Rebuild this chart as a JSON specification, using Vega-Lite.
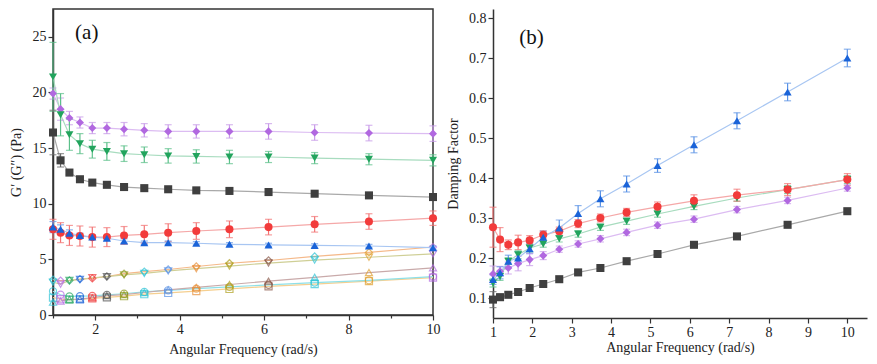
{
  "$schema": "https://vega.github.io/schema/vega-lite/v6.json",
  "autosize": {"type": "pad"},
  "padding": {"left": 8, "top": 8, "right": 5, "bottom": 5},
  "bounds": "flush",
  "spacing": 60,
  "background": "white",
  "config": {
    "font": "Liberation Serif",
    "axis": {"labelFont": "Liberation Serif", "titleFont": "Liberation Serif", "labelFontSize": 14, "titleFontSize": 14, "titleFontWeight": "normal", "labelColor": "#222", "titleColor": "#222", "domainColor": "#333", "tickColor": "#333", "domainWidth": 1.5, "tickWidth": 1.2, "grid": false, "labelFlush": false, "labelOverlap": false},
    "legend": {"disable": true}
  },
  "datasets": {
    "d": [
      {"s":"P","i":0,"x":1,"g":19.9,"e":0.5,"h":3.18,"t":0.16,"te":0.02},
      {"s":"P","i":1,"x":1.179,"g":18.5,"e":1.0,"h":3.09,"t":0.167,"te":0.012},
      {"s":"P","i":2,"x":1.389,"g":17.7,"e":0.6,"h":3.10,"t":0.175,"te":0.015},
      {"s":"P","i":3,"x":1.638,"g":17.3,"e":0.5,"h":3.22,"t":0.186,"te":0.018},
      {"s":"P","i":4,"x":1.931,"g":16.8,"e":0.5,"h":3.29,"t":0.196,"te":0.015},
      {"s":"P","i":5,"x":2.276,"g":16.8,"e":0.5,"h":3.46,"t":0.206,"te":0.01},
      {"s":"P","i":6,"x":2.683,"g":16.7,"e":0.6,"h":3.71,"t":0.222,"te":0.008},
      {"s":"P","i":7,"x":3.162,"g":16.6,"e":0.6,"h":3.90,"t":0.235,"te":0.008},
      {"s":"P","i":8,"x":3.728,"g":16.5,"e":0.6,"h":4.09,"t":0.248,"te":0.008},
      {"s":"P","i":9,"x":4.394,"g":16.5,"e":0.6,"h":4.36,"t":0.264,"te":0.008},
      {"s":"P","i":10,"x":5.179,"g":16.5,"e":0.6,"h":4.65,"t":0.282,"te":0.008},
      {"s":"P","i":11,"x":6.105,"g":16.5,"e":0.7,"h":4.90,"t":0.297,"te":0.008},
      {"s":"P","i":12,"x":7.197,"g":16.4,"e":0.7,"h":5.26,"t":0.321,"te":0.008},
      {"s":"P","i":13,"x":8.483,"g":16.35,"e":0.7,"h":5.62,"t":0.344,"te":0.008},
      {"s":"P","i":14,"x":10,"g":16.3,"e":0.7,"h":6.11,"t":0.375,"te":0.008},
      {"s":"G","i":0,"x":1,"g":21.4,"e":3.1,"h":2.94,"t":0.1375,"te":0.01},
      {"s":"G","i":1,"x":1.179,"g":18.0,"e":1.9,"h":2.77,"t":0.154,"te":0.01},
      {"s":"G","i":2,"x":1.389,"g":16.2,"e":1.4,"h":3.11,"t":0.192,"te":0.008},
      {"s":"G","i":3,"x":1.638,"g":15.4,"e":0.9,"h":3.20,"t":0.208,"te":0.01},
      {"s":"G","i":4,"x":1.931,"g":14.9,"e":0.8,"h":3.35,"t":0.225,"te":0.01},
      {"s":"G","i":5,"x":2.276,"g":14.7,"e":0.8,"h":3.45,"t":0.235,"te":0.008},
      {"s":"G","i":6,"x":2.683,"g":14.5,"e":0.7,"h":3.60,"t":0.248,"te":0.008},
      {"s":"G","i":7,"x":3.162,"g":14.4,"e":0.7,"h":3.74,"t":0.26,"te":0.008},
      {"s":"G","i":8,"x":3.728,"g":14.3,"e":0.65,"h":3.96,"t":0.277,"te":0.008},
      {"s":"G","i":9,"x":4.394,"g":14.25,"e":0.6,"h":4.16,"t":0.292,"te":0.008},
      {"s":"G","i":10,"x":5.179,"g":14.2,"e":0.6,"h":4.40,"t":0.31,"te":0.008},
      {"s":"G","i":11,"x":6.105,"g":14.2,"e":0.5,"h":4.67,"t":0.329,"te":0.008},
      {"s":"G","i":12,"x":7.197,"g":14.1,"e":0.5,"h":4.94,"t":0.35,"te":0.008},
      {"s":"G","i":13,"x":8.483,"g":14.0,"e":0.5,"h":5.19,"t":0.371,"te":0.01},
      {"s":"G","i":14,"x":10,"g":13.9,"e":0.5,"h":5.50,"t":0.396,"te":0.01},
      {"s":"K","i":0,"x":1,"g":16.4,"e":2.0,"h":1.57,"t":0.096,"te":0.02},
      {"s":"K","i":1,"x":1.179,"g":13.9,"e":0.6,"h":1.42,"t":0.102,"te":0.008},
      {"s":"K","i":2,"x":1.389,"g":12.8,"e":0.2,"h":1.38,"t":0.108,"te":0.005},
      {"s":"K","i":3,"x":1.638,"g":12.2,"e":0.15,"h":1.40,"t":0.115,"te":0.005},
      {"s":"K","i":4,"x":1.931,"g":11.9,"e":0.15,"h":1.49,"t":0.125,"te":0.005},
      {"s":"K","i":5,"x":2.276,"g":11.7,"e":0.15,"h":1.58,"t":0.135,"te":0.005},
      {"s":"K","i":6,"x":2.683,"g":11.5,"e":0.15,"h":1.69,"t":0.147,"te":0.005},
      {"s":"K","i":7,"x":3.162,"g":11.4,"e":0.15,"h":1.87,"t":0.164,"te":0.005},
      {"s":"K","i":8,"x":3.728,"g":11.3,"e":0.15,"h":1.98,"t":0.175,"te":0.005},
      {"s":"K","i":9,"x":4.394,"g":11.2,"e":0.15,"h":2.15,"t":0.192,"te":0.005},
      {"s":"K","i":10,"x":5.179,"g":11.15,"e":0.15,"h":2.34,"t":0.21,"te":0.005},
      {"s":"K","i":11,"x":6.105,"g":11.05,"e":0.15,"h":2.57,"t":0.233,"te":0.005},
      {"s":"K","i":12,"x":7.197,"g":10.9,"e":0.15,"h":2.77,"t":0.254,"te":0.005},
      {"s":"K","i":13,"x":8.483,"g":10.75,"e":0.15,"h":3.04,"t":0.283,"te":0.005},
      {"s":"K","i":14,"x":10,"g":10.6,"e":0.15,"h":3.36,"t":0.317,"te":0.005},
      {"s":"R","i":0,"x":1,"g":7.7,"e":0.9,"h":2.13,"t":0.277,"te":0.05},
      {"s":"R","i":1,"x":1.179,"g":7.4,"e":0.9,"h":1.82,"t":0.246,"te":0.03},
      {"s":"R","i":2,"x":1.389,"g":7.15,"e":0.9,"h":1.67,"t":0.233,"te":0.012},
      {"s":"R","i":3,"x":1.638,"g":7.1,"e":0.9,"h":1.70,"t":0.239,"te":0.018},
      {"s":"R","i":4,"x":1.931,"g":7.0,"e":0.9,"h":1.71,"t":0.244,"te":0.012},
      {"s":"R","i":5,"x":2.276,"g":7.0,"e":0.85,"h":1.81,"t":0.258,"te":0.01},
      {"s":"R","i":6,"x":2.683,"g":7.15,"e":0.8,"h":1.91,"t":0.267,"te":0.01},
      {"s":"R","i":7,"x":3.162,"g":7.25,"e":0.8,"h":2.07,"t":0.286,"te":0.01},
      {"s":"R","i":8,"x":3.728,"g":7.4,"e":0.8,"h":2.22,"t":0.3,"te":0.01},
      {"s":"R","i":9,"x":4.394,"g":7.55,"e":0.75,"h":2.37,"t":0.314,"te":0.01},
      {"s":"R","i":10,"x":5.179,"g":7.7,"e":0.75,"h":2.53,"t":0.328,"te":0.012},
      {"s":"R","i":11,"x":6.105,"g":7.9,"e":0.7,"h":2.71,"t":0.343,"te":0.015},
      {"s":"R","i":12,"x":7.197,"g":8.15,"e":0.7,"h":2.91,"t":0.357,"te":0.015},
      {"s":"R","i":13,"x":8.483,"g":8.4,"e":0.7,"h":3.12,"t":0.371,"te":0.015},
      {"s":"R","i":14,"x":10,"g":8.7,"e":0.65,"h":3.45,"t":0.396,"te":0.015},
      {"s":"B","i":0,"x":1,"g":7.9,"e":0.5,"h":1.15,"t":0.146,"te":0.012},
      {"s":"B","i":1,"x":1.179,"g":7.7,"e":0.4,"h":1.26,"t":0.163,"te":0.015},
      {"s":"B","i":2,"x":1.389,"g":7.35,"e":0.3,"h":1.41,"t":0.192,"te":0.015},
      {"s":"B","i":3,"x":1.638,"g":7.15,"e":0.2,"h":1.43,"t":0.2,"te":0.015},
      {"s":"B","i":4,"x":1.931,"g":7.0,"e":0.2,"h":1.56,"t":0.223,"te":0.012},
      {"s":"B","i":5,"x":2.276,"g":6.9,"e":0.2,"h":1.74,"t":0.252,"te":0.015},
      {"s":"B","i":6,"x":2.683,"g":6.65,"e":0.2,"h":1.83,"t":0.275,"te":0.02},
      {"s":"B","i":7,"x":3.162,"g":6.5,"e":0.15,"h":2.02,"t":0.311,"te":0.02},
      {"s":"B","i":8,"x":3.728,"g":6.5,"e":0.15,"h":2.26,"t":0.348,"te":0.02},
      {"s":"B","i":9,"x":4.394,"g":6.45,"e":0.15,"h":2.48,"t":0.385,"te":0.02},
      {"s":"B","i":10,"x":5.179,"g":6.35,"e":0.15,"h":2.74,"t":0.431,"te":0.017},
      {"s":"B","i":11,"x":6.105,"g":6.3,"e":0.15,"h":3.04,"t":0.483,"te":0.02},
      {"s":"B","i":12,"x":7.197,"g":6.25,"e":0.15,"h":3.39,"t":0.543,"te":0.02},
      {"s":"B","i":13,"x":8.483,"g":6.2,"e":0.15,"h":3.81,"t":0.615,"te":0.022},
      {"s":"B","i":14,"x":10,"g":6.05,"e":0.15,"h":4.24,"t":0.70,"te":0.022}
    ],
    "lab": [
      {"p":"a","x":1.8,"y":25.3,"text":"(a)"},
      {"p":"b","x":1.98,"y":0.75,"text":"(b)"}
    ]
  },
  "hconcat": [
    {
      "width": 380,
      "height": 306,
      "view": {"stroke": "#333", "strokeWidth": 1.5},
      "data": {"name": "d"},
      "resolve": {"scale": {"color": "independent"}},
      "layer": [
        {
          "mark": {"type": "line", "strokeWidth": 1.2},
          "encoding": {
            "x": {"field": "x", "type": "quantitative", "title": "Angular Frequency (rad/s)", "scale": {"domain": [1, 10], "nice": false, "zero": false},
              "axis": {"values": [1,2,3,4,5,6,7,8,9,10], "labelExpr": "datum.value % 2 === 0 ? datum.label : ''", "tickSize": {"condition": {"test": "datum.value % 2 === 0", "value": 5}, "value": 3}, "titlePadding": 6}},
            "y": {"field": "h", "type": "quantitative", "title": "G′ (G″) (Pa)", "scale": {"domain": [0, 27.5], "nice": false, "zero": false},
              "axis": {"values": [0,2.5,5,7.5,10,12.5,15,17.5,20,22.5,25], "labelExpr": "datum.value % 5 === 0 ? datum.label : ''", "tickSize": {"condition": {"test": "datum.value % 5 === 0", "value": 5}, "value": 3}, "titlePadding": 8, "minExtent": 22, "maxExtent": 22}},
            "color": {"field": "s", "type": "nominal", "scale": {"domain": ["P","G","K","R","B"], "range": ["#f5b98a","#cfcf96","#f5cf90","#8ee0e8","#c9aaaa"]}},
            "order": {"field": "x"}
          }
        },
        {
          "mark": {"type": "point", "filled": false, "size": 50, "strokeWidth": 1.2},
          "encoding": {
            "x": {"field": "x", "type": "quantitative", "title": "Angular Frequency (rad/s)"},
            "y": {"field": "h", "type": "quantitative", "title": "G′ (G″) (Pa)"},
            "shape": {"field": "s", "type": "nominal", "scale": {"domain": ["P","G","K","R","B"], "range": ["diamond","triangle-down","square","circle","triangle-up"]}},
            "color": {"field": "i", "type": "ordinal", "scale": {"range": ["#2ec4d6","#b36ae2","#27a862","#1f66d9","#f03a3a","#555555","#8f9a20","#2ec4d6","#5b93e6","#e8903a","#b0a020","#8b5a4a","#2ec4d6","#e0a030","#b36ae2"]}}
          }
        },
        {
          "mark": {"type": "line", "strokeWidth": 1.2},
          "encoding": {
            "x": {"field": "x", "type": "quantitative", "title": "Angular Frequency (rad/s)"},
            "y": {"field": "g", "type": "quantitative", "title": "G′ (G″) (Pa)"},
            "color": {"field": "s", "type": "nominal", "scale": {"domain": ["P","G","K","R","B"], "range": ["#dcbcf2","#a8dcbf","#a9a9a9","#f5a8a8","#a8c6f2"]}},
            "order": {"field": "x"}
          }
        },
        {
          "mark": {"type": "errorbar", "ticks": {"size": 7}, "thickness": 1.2},
          "encoding": {
            "x": {"field": "x", "type": "quantitative", "title": "Angular Frequency (rad/s)"},
            "y": {"field": "g", "type": "quantitative", "title": "G′ (G″) (Pa)"},
            "yError": {"field": "e"},
            "color": {"field": "s", "type": "nominal", "scale": {"domain": ["P","G","K","R","B"], "range": ["#c89be8","#5cc08a","#6a6a6a","#f27474","#5b93e6"]}}
          }
        },
        {
          "mark": {"type": "point", "filled": true, "size": 65, "opacity": 1},
          "encoding": {
            "x": {"field": "x", "type": "quantitative", "title": "Angular Frequency (rad/s)"},
            "y": {"field": "g", "type": "quantitative", "title": "G′ (G″) (Pa)"},
            "shape": {"field": "s", "type": "nominal"},
            "color": {"field": "s", "type": "nominal", "scale": {"domain": ["P","G","K","R","B"], "range": ["#b168e0","#22a45d","#3f3f3f","#f23b3b","#1a63d8"]}}
          }
        },
        {
          "data": {"name": "lab"},
          "transform": [{"filter": "datum.p === 'a'"}],
          "mark": {"type": "text", "font": "Liberation Serif", "fontSize": 21, "color": "#111"},
          "encoding": {
            "x": {"field": "x", "type": "quantitative", "title": "Angular Frequency (rad/s)"},
            "y": {"field": "y", "type": "quantitative", "title": "G′ (G″) (Pa)"},
            "text": {"field": "text"}
          }
        }
      ]
    },
    {
      "width": 374,
      "height": 309,
      "view": {"stroke": null},
      "data": {"name": "d"},
      "resolve": {"scale": {"color": "independent"}},
      "layer": [
        {
          "mark": {"type": "line", "strokeWidth": 1.2},
          "encoding": {
            "x": {"field": "x", "type": "quantitative", "title": "Angular Frequency (rad/s)", "scale": {"domain": [1, 10.5], "nice": false, "zero": false},
              "axis": {"values": [1,1.5,2,2.5,3,3.5,4,4.5,5,5.5,6,6.5,7,7.5,8,8.5,9,9.5,10], "format": "d", "labelExpr": "datum.value % 1 === 0 ? datum.label : ''", "tickSize": {"condition": {"test": "datum.value % 1 === 0", "value": 5}, "value": 3}, "titlePadding": 1}},
            "y": {"field": "t", "type": "quantitative", "title": "Damping Factor", "scale": {"domain": [0.05, 0.8225], "nice": false, "zero": false},
              "axis": {"values": [0.1,0.2,0.3,0.4,0.5,0.6,0.7,0.8], "format": ".1f", "tickSize": 5, "titlePadding": 7, "minExtent": 26, "maxExtent": 26}},
            "color": {"field": "s", "type": "nominal", "scale": {"domain": ["P","G","K","R","B"], "range": ["#dcbcf2","#a8dcbf","#a9a9a9","#f5a8a8","#a8c6f2"]}},
            "order": {"field": "x"}
          }
        },
        {
          "mark": {"type": "errorbar", "ticks": {"size": 7}, "thickness": 1.2},
          "encoding": {
            "x": {"field": "x", "type": "quantitative", "title": "Angular Frequency (rad/s)"},
            "y": {"field": "t", "type": "quantitative", "title": "Damping Factor"},
            "yError": {"field": "te"},
            "color": {"field": "s", "type": "nominal", "scale": {"domain": ["P","G","K","R","B"], "range": ["#c89be8","#5cc08a","#6a6a6a","#f27474","#5b93e6"]}}
          }
        },
        {
          "mark": {"type": "point", "filled": true, "size": 65, "opacity": 1},
          "encoding": {
            "x": {"field": "x", "type": "quantitative", "title": "Angular Frequency (rad/s)"},
            "y": {"field": "t", "type": "quantitative", "title": "Damping Factor"},
            "shape": {"field": "s", "type": "nominal", "scale": {"domain": ["P","G","K","R","B"], "range": ["diamond","triangle-down","square","circle","triangle-up"]}},
            "color": {"field": "s", "type": "nominal", "scale": {"domain": ["P","G","K","R","B"], "range": ["#b168e0","#22a45d","#3f3f3f","#f23b3b","#1a63d8"]}}
          }
        },
        {
          "data": {"name": "lab"},
          "transform": [{"filter": "datum.p === 'b'"}],
          "mark": {"type": "text", "font": "Liberation Serif", "fontSize": 21, "color": "#111"},
          "encoding": {
            "x": {"field": "x", "type": "quantitative", "title": "Angular Frequency (rad/s)"},
            "y": {"field": "y", "type": "quantitative", "title": "Damping Factor"},
            "text": {"field": "text"}
          }
        }
      ]
    }
  ]
}
